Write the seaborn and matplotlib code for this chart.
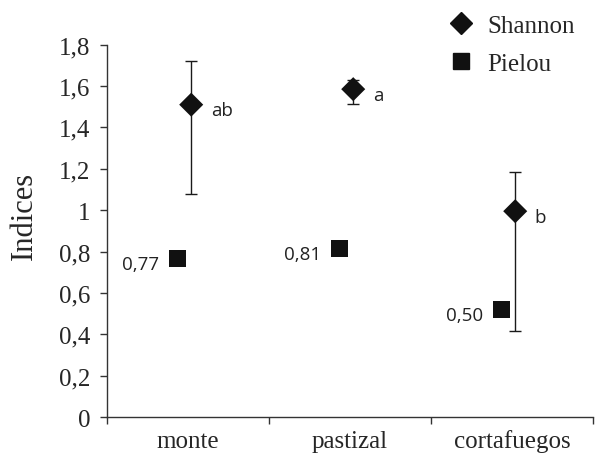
import numpy as np
import pandas as pd
import matplotlib
matplotlib.use("Agg")
import matplotlib.pyplot as plt
import seaborn as sns

# Data
sites = ["monte", "pastizal", "cortafuegos"]
shannon = [1.51, 1.585, 0.995]
shannon_err_low = [0.43, 0.07, 0.58]
shannon_err_high = [0.21, 0.045, 0.19]
shannon_letters = ["ab", "a", "b"]
pielou = [0.765, 0.815, 0.52]
pielou_labels = ["0,77", "0,81", "0,50"]
y_ticks = [0, 0.2, 0.4, 0.6, 0.8, 1, 1.2, 1.4, 1.6, 1.8]
y_tick_labels = ["0", "0,2", "0,4", "0,6", "0,8", "1", "1,2", "1,4", "1,6", "1,8"]

sns.set_style("ticks")
plt.rcParams["font.family"] = ["Liberation Serif", "DejaVu Serif"]

pos = np.arange(len(sites))
df = pd.DataFrame({
    "x": np.concatenate([pos + 0.02, pos - 0.065]),
    "valor": shannon + pielou,
    "indice": ["Shannon"] * 3 + ["Pielou"] * 3,
})

fig = plt.figure(figsize=(5.95, 4.56), dpi=100)
ax = fig.add_axes([0.1798, 0.0833, 0.8168, 0.8165])

ax.errorbar(pos + 0.02, shannon, yerr=[shannon_err_low, shannon_err_high],
            fmt="none", ecolor="#1a1a1a", elinewidth=1.0, capsize=4, capthick=1.0, zorder=2)

sns.scatterplot(data=df, x="x", y="valor", style="indice",
                markers={"Shannon": "D", "Pielou": "s"},
                color="#111111", edgecolor="none", s=150, ax=ax, zorder=3, legend=False)

for i in range(3):
    ax.annotate(shannon_letters[i], (pos[i] + 0.02, shannon[i]), xytext=(14, -4),
                textcoords="offset points", ha="left", va="center",
                fontsize=13.5, family="Open Sans", color="#222222")
    ax.annotate(pielou_labels[i], (pos[i] - 0.065, pielou[i]), xytext=(-13, -4),
                textcoords="offset points", ha="right", va="center",
                fontsize=13.5, family="Open Sans", color="#222222")

ax.set_xlim(-0.5, 2.5)
ax.set_ylim(0, 1.8)
ax.set_xticks(pos)
ax.set_xticklabels(sites, fontsize=18)
ax.set_xticks([-0.5, 0.5, 1.5, 2.5], minor=True)
ax.tick_params(axis="x", which="major", length=0, pad=9)
ax.tick_params(axis="x", which="minor", length=5, width=1, direction="out", color="#333333")
ax.set_yticks(y_ticks)
ax.set_yticklabels(y_tick_labels, fontsize=18)
ax.tick_params(axis="y", length=5, width=1, direction="out", color="#333333", pad=7)
ax.set_xlabel("")
ax.set_ylabel("Indices", fontsize=22)
ax.yaxis.set_label_coords(-0.14, 0.543)

for side in ["top", "right"]:
    ax.spines[side].set_visible(False)
for side in ["left", "bottom"]:
    ax.spines[side].set_linewidth(1.0)
    ax.spines[side].set_color("#333333")

handles = [
    plt.Line2D([], [], marker="D", linestyle="none", color="#111111", markersize=11),
    plt.Line2D([], [], marker="s", linestyle="none", color="#111111", markersize=12),
]
fig.legend(handles, ["Shannon", "Pielou"], loc="upper left",
           bbox_to_anchor=(0.705, 1.015), frameon=False, fontsize=18,
           handletextpad=0.3, labelspacing=0.6, handlelength=1.5)

fig.savefig("out.png", dpi=100)
